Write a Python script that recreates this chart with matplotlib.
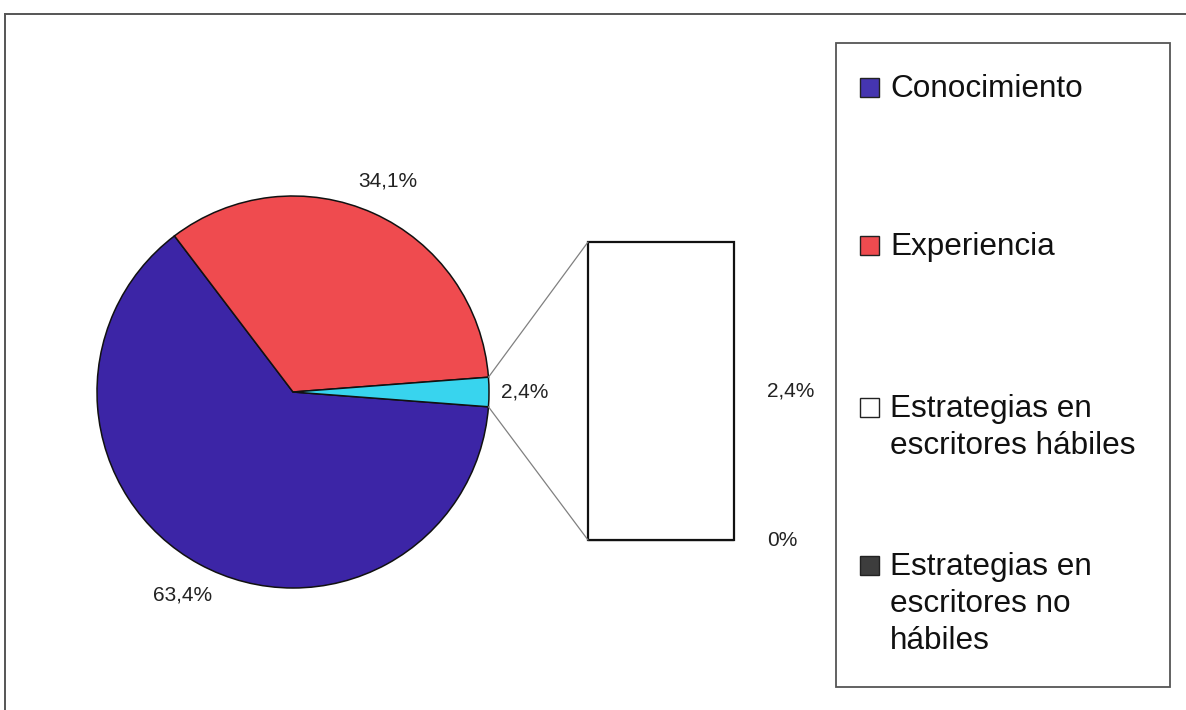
import numpy as np
import matplotlib.pyplot as plt
from matplotlib.patches import Rectangle, ConnectionPatch
from matplotlib.lines import Line2D

plt.rcParams['font.family'] = ['Liberation Sans', 'DejaVu Sans']

# pie: two main categories plus the combined "estrategias" slice
pie_labels = ['Conocimiento', 'Experiencia', 'Estrategias']
pie_values = [63.4, 34.1, 2.4]

# bar: breakdown of the combined slice (bottom to top)
bar_labels = ['Estrategias en escritores no hábiles', 'Estrategias en escritores hábiles']
bar_values = [0.0, 2.4]

legend_labels = ['Conocimiento', 'Experiencia',
                 'Estrategias en\nescritores hábiles',
                 'Estrategias en\nescritores no\nhábiles']

pie_colors = ['#3C25A6', '#EF4B4F', '#38D4EE']
bar_colors = ['#3d3d3d', 'white']
legend_colors = ['#4535B0', '#EF4B4F', 'white', '#3d3d3d']

W, H = 1186, 710


def fx(x):
    return x / W


def fy(y):
    return 1 - y / H


def fmt(v):
    return f"{v:.1f}%".replace('.', ',').replace(',0%', '%')


fig = plt.figure(figsize=(W / 100, H / 100), dpi=100)
fig.patch.set_facecolor('white')

# outer chart frame (top and left edges)
fig.add_artist(Line2D([fx(5), fx(1186)], [fy(14), fy(14)], color='#555', lw=1.4))
fig.add_artist(Line2D([fx(5), fx(5)], [fy(14), fy(710)], color='#555', lw=1.4))

# --- pie ---
cx, cy, r = 293, 392, 196
ax_pie = fig.add_axes([fx(cx - r), fy(cy + r), 2 * r / W, 2 * r / H])
total = sum(pie_values)
start = -pie_values[2] / total * 180
wedges, _, autotexts = ax_pie.pie(
    pie_values, colors=pie_colors, startangle=start, counterclock=False,
    autopct=lambda p: fmt(round(p * total / 100, 1)), pctdistance=1.18,
    wedgeprops=dict(edgecolor='#111', linewidth=1.1),
    textprops=dict(fontsize=15, color='#222'))
ax_pie.set_xlim(-1, 1)
ax_pie.set_ylim(-1, 1)
ax_pie.set_aspect('equal')

# --- bar of the combined slice ---
ax_bar = fig.add_axes([fx(588), fy(540), 146 / W, 298 / H])
bottom = 0
for v, c in zip(bar_values, bar_colors):
    bars = ax_bar.bar(0, v, bottom=bottom, width=1, color=c, edgecolor='#111', linewidth=1.6)
    for b in bars:
        b.set_clip_on(False)
    ax_bar.text(0.726, bottom + v / 2, fmt(v), ha='left', va='center',
                fontsize=15, color='#222')
    bottom += v
ax_bar.set_xlim(-0.5, 0.5)
ax_bar.set_ylim(0, sum(bar_values))
ax_bar.axis('off')

# connector lines between the small slice and the bar
w = wedges[2]
for theta, yb in [(w.theta2, sum(bar_values)), (w.theta1, 0)]:
    xa = np.cos(np.radians(theta))
    ya = np.sin(np.radians(theta))
    con = ConnectionPatch(xyA=(xa, ya), coordsA=ax_pie.transData,
                          xyB=(-0.5, yb), coordsB=ax_bar.transData,
                          color='#808080', lw=0.9)
    fig.add_artist(con)

# --- legend box ---
fig.add_artist(Rectangle((fx(836), fy(687)), (1170 - 836) / W, (687 - 43) / H,
                         transform=fig.transFigure, facecolor='white',
                         edgecolor='#555', lw=1.3))
slot_baselines = [97, 255, 417, 575]
line_step = 37
for lab, c, yb in zip(legend_labels, legend_colors, slot_baselines):
    fig.add_artist(Rectangle((fx(860), fy(yb)), 19 / W, 19 / H,
                             transform=fig.transFigure, facecolor=c,
                             edgecolor='#222', lw=1.0))
    for i, line in enumerate(lab.split('\n')):
        fig.text(fx(890), fy(yb + i * line_step), line, ha='left', va='baseline',
                 fontsize=22.7, color='#111')

fig.savefig('out.png', dpi=100)
